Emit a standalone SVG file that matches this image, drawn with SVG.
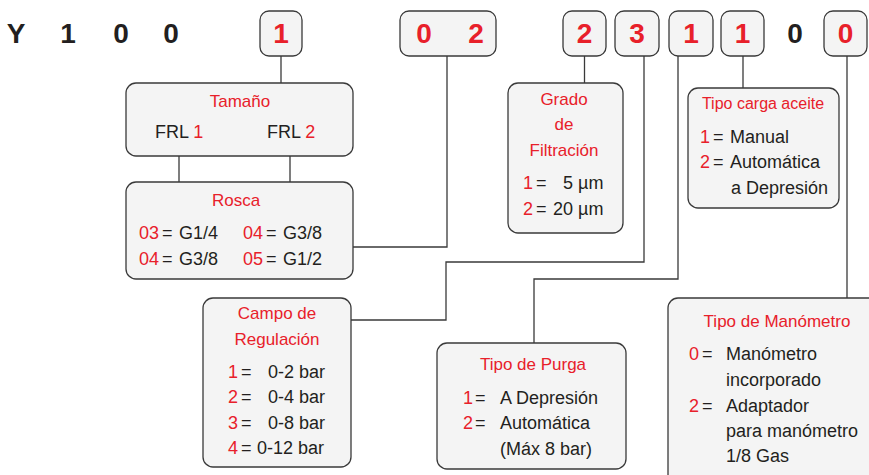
<svg xmlns="http://www.w3.org/2000/svg" width="869" height="475" viewBox="0 0 869 475">
<style>
.bx{fill:#f4f4f4;stroke:#3a3a3a;stroke-width:1.3}
.cn{fill:none;stroke:#3a3a3a;stroke-width:1.3}
text{font-family:"Liberation Sans",Arial,sans-serif}
.code{font-size:28px;font-weight:bold;fill:#231f20;text-anchor:middle}
.r{fill:#e8202a}
.t{font-size:17px;fill:#e8202a;text-anchor:middle}
.b{font-size:18px;fill:#231f20}
</style>
<rect width="869" height="475" fill="#fff"/>
<g id="connectors">
<path class="cn" d="M281 56V83"/>
<path class="cn" d="M447 56V247H353"/>
<path class="cn" d="M179 156V182M290 156V182"/>
<path class="cn" d="M584.5 56V83"/>
<path class="cn" d="M644 56V262H446V320H351"/>
<path class="cn" d="M678 56V279H534V343"/>
<path class="cn" d="M743 56V88"/>
<path class="cn" d="M847 56V298"/>
</g>
<g id="code">
<text class="code" x="16" y="43">Y</text>
<text class="code" x="68" y="43">1</text>
<text class="code" x="121" y="43">0</text>
<text class="code" x="171" y="43">0</text>
<text class="code" x="795" y="43">0</text>
</g>
<g id="c1"><rect class="bx" x="260" y="11" width="42" height="45" rx="9"/><text class="code r" x="281" y="43">1</text></g>
<g id="c02"><rect class="bx" x="400" y="11" width="96" height="45" rx="9"/><text class="code r" x="424" y="43">0</text><text class="code r" x="476" y="43">2</text></g>
<g id="c2"><rect class="bx" x="563" y="11" width="43" height="45" rx="9"/><text class="code r" x="584.5" y="43">2</text></g>
<g id="c3"><rect class="bx" x="615" y="11" width="44" height="45" rx="9"/><text class="code r" x="637" y="43">3</text></g>
<g id="c1b"><rect class="bx" x="669" y="11" width="44" height="45" rx="9"/><text class="code r" x="691" y="43">1</text></g>
<g id="c1c"><rect class="bx" x="721" y="11" width="43" height="45" rx="9"/><text class="code r" x="742.5" y="43">1</text></g>
<g id="c0"><rect class="bx" x="824" y="11" width="43" height="45" rx="9"/><text class="code r" x="845.5" y="43">0</text></g>

<g id="tamano">
<rect class="bx" x="126" y="83" width="227" height="73" rx="10"/>
<text class="t" x="240" y="107">Tamaño</text>
<text class="b" x="155" y="138">FRL <tspan class="r">1</tspan></text>
<text class="b" x="267" y="138">FRL <tspan class="r">2</tspan></text>
</g>
<g id="rosca">
<rect class="bx" x="126" y="182" width="227" height="97" rx="10"/>
<text class="t" x="236" y="206">Rosca</text>
<text class="b" y="239"><tspan class="r" x="139">03</tspan><tspan x="162">=</tspan><tspan x="179">G1/4</tspan><tspan class="r" x="243">04</tspan><tspan x="266">=</tspan><tspan x="283">G3/8</tspan></text>
<text class="b" y="265"><tspan class="r" x="139">04</tspan><tspan x="162">=</tspan><tspan x="179">G3/8</tspan><tspan class="r" x="243">05</tspan><tspan x="266">=</tspan><tspan x="283">G1/2</tspan></text>
</g>
<g id="grado">
<rect class="bx" x="508" y="83" width="115" height="150" rx="10"/>
<text class="t" x="564" y="105">Grado</text>
<text class="t" x="564" y="130">de</text>
<text class="t" x="564" y="156">Filtración</text>
<text class="b" y="189"><tspan class="r" x="523">1</tspan><tspan x="536">=</tspan><tspan x="563">5 µm</tspan></text>
<text class="b" y="215"><tspan class="r" x="523">2</tspan><tspan x="536">=</tspan><tspan x="553">20 µm</tspan></text>
</g>
<g id="carga">
<rect class="bx" x="688" y="88" width="151" height="120" rx="10"/>
<text class="t" x="763" y="109" style="font-size:16px">Tipo carga aceite</text>
<text class="b" y="143"><tspan class="r" x="700">1</tspan><tspan x="713">=</tspan><tspan x="730">Manual</tspan></text>
<text class="b" y="168"><tspan class="r" x="700">2</tspan><tspan x="713">=</tspan><tspan x="730">Automática</tspan></text>
<text class="b" x="731" y="194">a Depresión</text>
</g>
<g id="campo">
<rect class="bx" x="203" y="298" width="148" height="169" rx="10"/>
<text class="t" x="277" y="319">Campo de</text>
<text class="t" x="277" y="345">Regulación</text>
<text class="b" y="378"><tspan class="r" x="228">1</tspan><tspan x="241">=</tspan><tspan x="268">0-2 bar</tspan></text>
<text class="b" y="403"><tspan class="r" x="228">2</tspan><tspan x="241">=</tspan><tspan x="268">0-4 bar</tspan></text>
<text class="b" y="429"><tspan class="r" x="228">3</tspan><tspan x="241">=</tspan><tspan x="268">0-8 bar</tspan></text>
<text class="b" y="454"><tspan class="r" x="228">4</tspan><tspan x="241">=</tspan><tspan x="257">0-12 bar</tspan></text>
</g>
<g id="purga">
<rect class="bx" x="437" y="343" width="189" height="126" rx="10"/>
<text class="t" x="533" y="370">Tipo de Purga</text>
<text class="b" y="404"><tspan class="r" x="463">1</tspan><tspan x="475">=</tspan><tspan x="500">A Depresión</tspan></text>
<text class="b" y="429"><tspan class="r" x="463">2</tspan><tspan x="475">=</tspan><tspan x="500">Automática</tspan></text>
<text class="b" x="500" y="455">(Máx 8 bar)</text>
</g>
<g id="manometro">
<rect class="bx" x="668" y="298" width="220" height="200" rx="10"/>
<text class="t" x="777" y="327">Tipo de Manómetro</text>
<text class="b" y="360"><tspan class="r" x="689">0</tspan><tspan x="702">=</tspan><tspan x="726">Manómetro</tspan></text>
<text class="b" x="726" y="386">incorporado</text>
<text class="b" y="412"><tspan class="r" x="689">2</tspan><tspan x="702">=</tspan><tspan x="726">Adaptador</tspan></text>
<text class="b" x="726" y="437">para manómetro</text>
<text class="b" x="726" y="462">1/8 Gas</text>
</g>
</svg>
